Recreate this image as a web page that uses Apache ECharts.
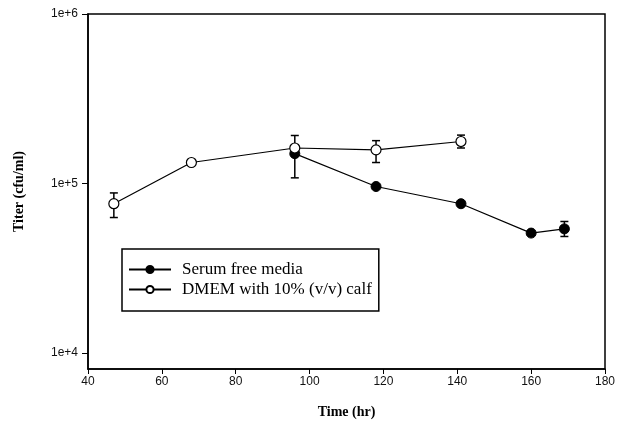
<!DOCTYPE html>
<html>
<head>
<meta charset="utf-8">
<script src="https://cdn.jsdelivr.net/npm/echarts@6/dist/echarts.min.js"></script>
<style>html,body{margin:0;padding:0;background:#fff;}#c{width:620px;height:434px;}</style>
</head>
<body>
<div id="c"></div>
<script>
// Data
var serumTime = [96, 118, 141, 160, 169];
var serumTiter = [150000, 96000, 76000, 51000, 54000];
var serumErrLow = [108000, null, null, null, 48700];
var serumErrHigh = [192000, null, null, null, 59700];

var dmemTime = [47, 68, 96, 118, 141];
var dmemTiter = [76000, 133000, 162000, 158000, 177000];
var dmemErrLow = [63000, null, null, 133000, 162000];
var dmemErrHigh = [88000, null, null, 179000, 193000];

var xTicks = [40, 60, 80, 100, 120, 140, 160, 180];
var yTicks = [10000, 100000, 1000000];

function pairs(xs, ys) { return xs.map(function (x, i) { return [x, ys[i]]; }); }
function errData(xs, lo, hi) {
  var out = [];
  xs.forEach(function (x, i) { if (lo[i] != null && hi[i] != null) out.push([x, lo[i], hi[i]]); });
  return out;
}
function errRender(params, api) {
  var x = api.value(0);
  var p1 = api.coord([x, api.value(1)]);
  var p2 = api.coord([x, api.value(2)]);
  var w = 4;
  var st = { stroke: '#000', lineWidth: 1.5 };
  return {
    type: 'group',
    children: [
      { type: 'line', shape: { x1: p1[0], y1: p1[1], x2: p2[0], y2: p2[1] }, style: st },
      { type: 'line', shape: { x1: p1[0] - w, y1: p1[1], x2: p1[0] + w, y2: p1[1] }, style: st },
      { type: 'line', shape: { x1: p2[0] - w, y1: p2[1], x2: p2[0] + w, y2: p2[1] }, style: st }
    ]
  };
}

var chart = echarts.init(document.getElementById('c'), null, { renderer: 'canvas' });
var option = {
  backgroundColor: '#fff',
  animation: false,
  grid: { left: 88, right: 15, top: 14, bottom: 65, show: true, borderColor: '#000', borderWidth: 1.5 },
  xAxis: {
    type: 'value', min: 40, max: 180, interval: 20,
    name: 'Time (hr)', nameLocation: 'middle', nameGap: 36,
    nameTextStyle: { fontFamily: 'Liberation Serif', fontWeight: 'bold', fontSize: 14, color: '#000' },
    axisLine: { show: true, lineStyle: { color: '#000', width: 1.5 } },
    axisTick: { show: true, length: 5, lineStyle: { color: '#000' } },
    axisLabel: { fontFamily: 'Liberation Sans', fontSize: 12, color: '#111', margin: 7,
      formatter: function (v) { return xTicks.indexOf(v) >= 0 ? String(v) : ''; } },
    splitLine: { show: false }
  },
  yAxis: {
    type: 'log', logBase: 10, min: 8050, max: 1000000,
    name: 'Titer (cfu/ml)', nameLocation: 'middle', nameGap: 62,
    nameTextStyle: { fontFamily: 'Liberation Serif', fontWeight: 'bold', fontSize: 14, color: '#000' },
    axisLine: { show: true, lineStyle: { color: '#000', width: 1.5 } },
    axisTick: { show: true, length: 6, lineStyle: { color: '#000' }, customValues: yTicks },
    axisLabel: { fontFamily: 'Liberation Sans', fontSize: 12, color: '#111', margin: 10,
      customValues: yTicks,
      formatter: function (v) {
        var e = Math.round(Math.log(v) / Math.LN10);
        if (Math.abs(v - Math.pow(10, e)) / v < 1e-6) return '1e+' + e;
        return '';
      } },
    splitLine: { show: false }
  },
  legend: {
    left: 122, top: 249, orient: 'vertical',
    data: ['Serum free media', 'DMEM with 10% (v/v) calf'],
    borderColor: '#000', borderWidth: 1.5, borderRadius: 0,
    padding: [12, 7, 13, 6], itemGap: 3, itemWidth: 42, itemHeight: 9,
    textStyle: { fontFamily: 'Liberation Serif', fontSize: 17, color: '#000', padding: [0, 0, 0, 6] }
  },
  series: [
    {
      name: 'serumErr', type: 'custom', renderItem: errRender,
      data: errData(serumTime, serumErrLow, serumErrHigh), encode: { x: 0, y: [1, 2] }, z: 2, silent: true
    },
    {
      name: 'dmemErr', type: 'custom', renderItem: errRender,
      data: errData(dmemTime, dmemErrLow, dmemErrHigh), encode: { x: 0, y: [1, 2] }, z: 2, silent: true
    },
    {
      name: 'Serum free media', type: 'line', data: pairs(serumTime, serumTiter),
      symbol: 'circle', symbolSize: 10,
      lineStyle: { color: '#000', width: 1.2 },
      itemStyle: { color: '#000', borderColor: '#000', borderWidth: 1 }, z: 3
    },
    {
      name: 'DMEM with 10% (v/v) calf', type: 'line', data: pairs(dmemTime, dmemTiter),
      symbol: 'circle', symbolSize: 10,
      lineStyle: { color: '#000', width: 1.2 },
      itemStyle: { color: '#fff', borderColor: '#000', borderWidth: 1.2 }, z: 4
    }
  ]
};
chart.setOption(option);
</script>
</body>
</html>
